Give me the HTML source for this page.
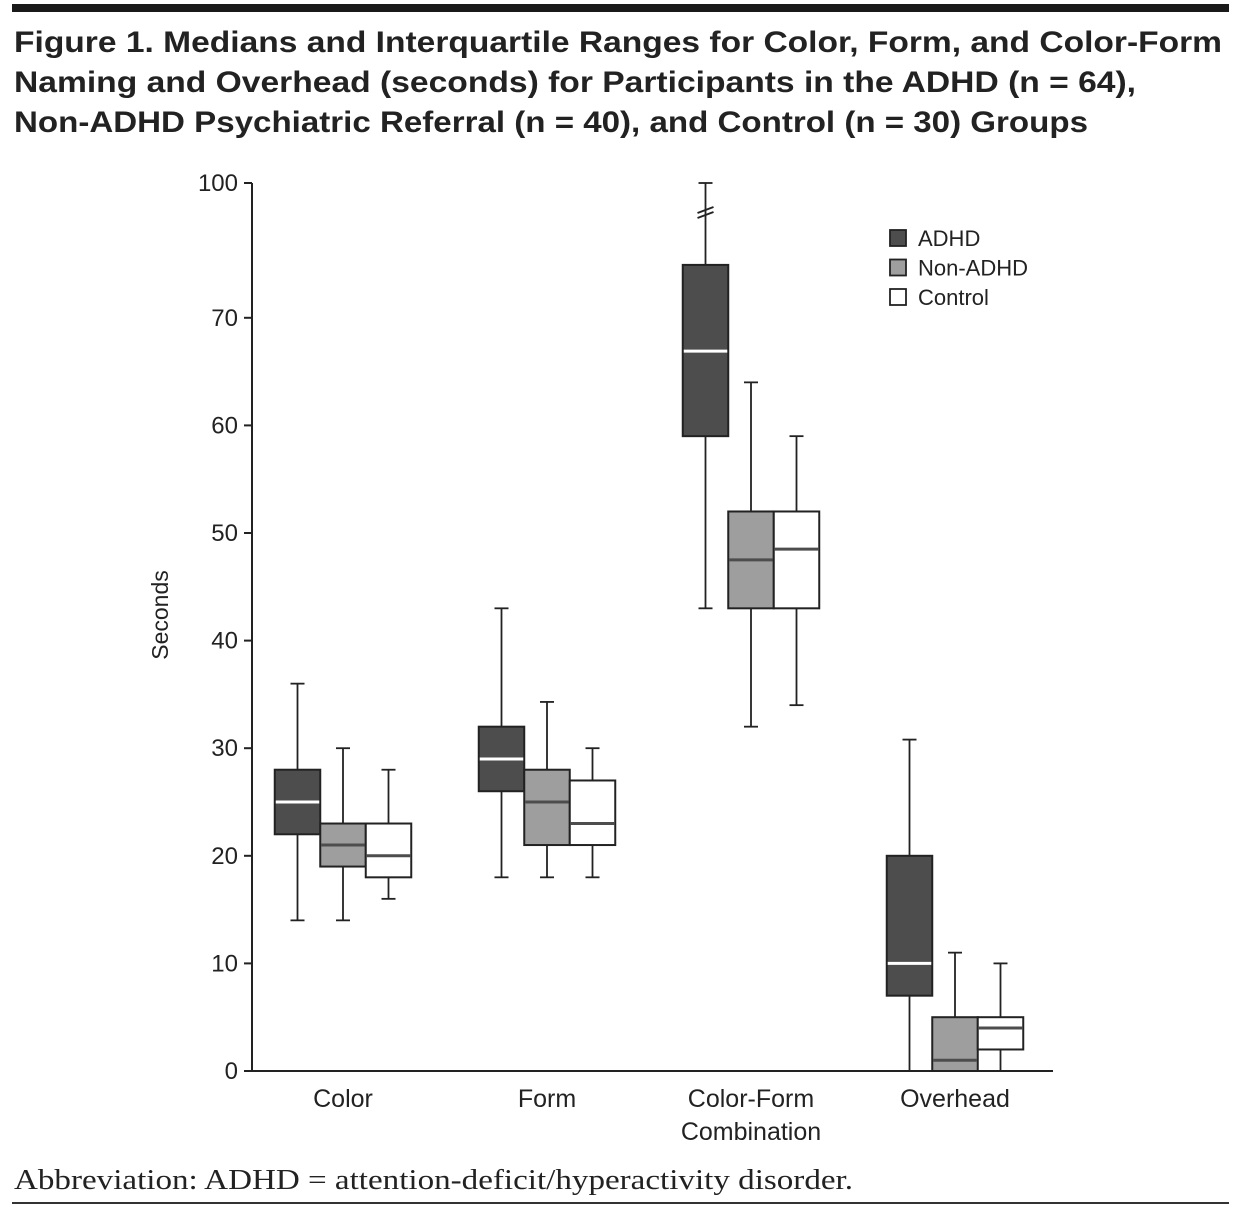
<!DOCTYPE html>
<html><head><meta charset="utf-8"><style>
body{margin:0;background:#fff;width:1241px;height:1208px;overflow:hidden;font-family:"Liberation Sans",sans-serif}
</style></head><body>
<svg width="1241" height="1208" xmlns="http://www.w3.org/2000/svg">
<rect x="12" y="4" width="1217" height="8" fill="#1a1a1a"/>
<g font-family="Liberation Sans, sans-serif" font-weight="bold" font-size="30" fill="#222">
<text x="14" y="52" textLength="1208" lengthAdjust="spacingAndGlyphs">Figure 1. Medians and Interquartile Ranges for Color, Form, and Color-Form</text>
<text x="14" y="92" textLength="1122" lengthAdjust="spacingAndGlyphs">Naming and Overhead (seconds) for Participants in the ADHD (n = 64),</text>
<text x="14" y="132" textLength="1074" lengthAdjust="spacingAndGlyphs">Non-ADHD Psychiatric Referral (n = 40), and Control (n = 30) Groups</text>
</g>
<g id="plot"></g>
<text x="14" y="1189" font-family="Liberation Serif, serif" font-size="28" fill="#222" textLength="839" lengthAdjust="spacingAndGlyphs">Abbreviation: ADHD = attention-deficit/hyperactivity disorder.</text>
<rect x="12" y="1202" width="1217" height="2" fill="#333"/>
</svg>
<script>
const categories=["Color","Form","Color-Form|Combination","Overhead"];
const seriesNames=["ADHD","Non-ADHD","Control"];
const seriesFill=["#4d4d4d","#9e9e9e","#ffffff"];
const medianColor=["#ffffff","#4d4d4d","#4d4d4d"];
// [min,q1,median,q3,max] per category, per series
const adhd=[[14,22,25,28,36],[18,26,29,32,43],[43,59,66.9,81.8,100],[0,7,10,20,30.8]];
const nonAdhd=[[14,19,21,23,30],[18,21,25,28,34.3],[32,43,47.5,52,64],[0,0,1,5,11]];
const control=[[16,18,20,23,28],[18,21,23,27,30],[34,43,48.5,52,59],[0,2,4,5,10]];
const yTicks=[0,10,20,30,40,50,60,70,100];
const series=[adhd,nonAdhd,control];
const NS="http://www.w3.org/2000/svg";
const g=document.getElementById('plot');
function y(v){return v<=70?1071-v*10.76:318-(v-70)*4.5;}
const x0=252,groupCenters=[343,547,751,955],bw=45.5;
function mk(t,a,p){const e=document.createElementNS(NS,t);for(const k in a)e.setAttribute(k,a[k]);(p||g).appendChild(e);return e;}
let e=mk('line',{x1:x0,y1:183,x2:x0,y2:1071,stroke:'#222','stroke-width':2});


e=mk('line',{x1:x0,y1:1071,x2:1053,y2:1071,stroke:'#222','stroke-width':2});


yTicks.forEach(t=>{
 mk('line',{x1:x0-8,y1:y(t),x2:x0,y2:y(t),stroke:'#222','stroke-width':2});
 const tx=mk('text',{x:x0-14,y:y(t)+8,'text-anchor':'end','font-size':24,fill:'#222'});tx.textContent=t;
 
 
});
e=mk('text',{x:0,y:0,transform:'translate(168,615) rotate(-90)','text-anchor':'middle','font-size':23,fill:'#222'});e.textContent='Seconds';


categories.forEach((c,i)=>{
 const parts=c.split('|');
 parts.forEach((p,j)=>{const t=mk('text',{x:groupCenters[i],y:1107+j*33,'text-anchor':'middle','font-size':25,fill:'#222'});t.textContent=p;
 
 });
 series.forEach((s,k)=>{
  const d=s[i];const cx=groupCenters[i]+(k-1)*bw;const l=cx-bw/2;
  const grp=mk('g',{});
  
  
  mk('line',{x1:cx,y1:y(d[0]),x2:cx,y2:y(d[1]),stroke:'#222','stroke-width':1.8},grp);
  mk('line',{x1:cx,y1:y(d[3]),x2:cx,y2:y(d[4]),stroke:'#222','stroke-width':1.8},grp);
  mk('line',{x1:cx-7,y1:y(d[0]),x2:cx+7,y2:y(d[0]),stroke:'#222','stroke-width':1.8},grp);
  mk('line',{x1:cx-7,y1:y(d[4]),x2:cx+7,y2:y(d[4]),stroke:'#222','stroke-width':1.8},grp);
  mk('rect',{x:l,y:y(d[3]),width:bw,height:Math.max(0,y(d[1])-y(d[3])),fill:seriesFill[k],stroke:'#222','stroke-width':2},grp);
  mk('line',{x1:l+1,y1:y(d[2]),x2:l+bw-1,y2:y(d[2]),stroke:medianColor[k],'stroke-width':3},grp);
  if(d[4]>70&&d[3]<=82){const by=210;
   mk('line',{x1:cx-8,y1:by+3,x2:cx+8,y2:by-3,stroke:'#222','stroke-width':2},grp);
   mk('line',{x1:cx-8,y1:by+8,x2:cx+8,y2:by+2,stroke:'#222','stroke-width':2},grp);}
 });
});
seriesNames.forEach((n,k)=>{
 const lg=mk('g',{});
 
 
 const yy=230+k*29.5;
 mk('rect',{x:890,y:yy,width:16,height:16,fill:seriesFill[k],stroke:'#222','stroke-width':1.8},lg);
 const t=mk('text',{x:918,y:yy+16,'font-size':22,fill:'#222'},lg);t.textContent=n;
});
</script>
</body></html>
